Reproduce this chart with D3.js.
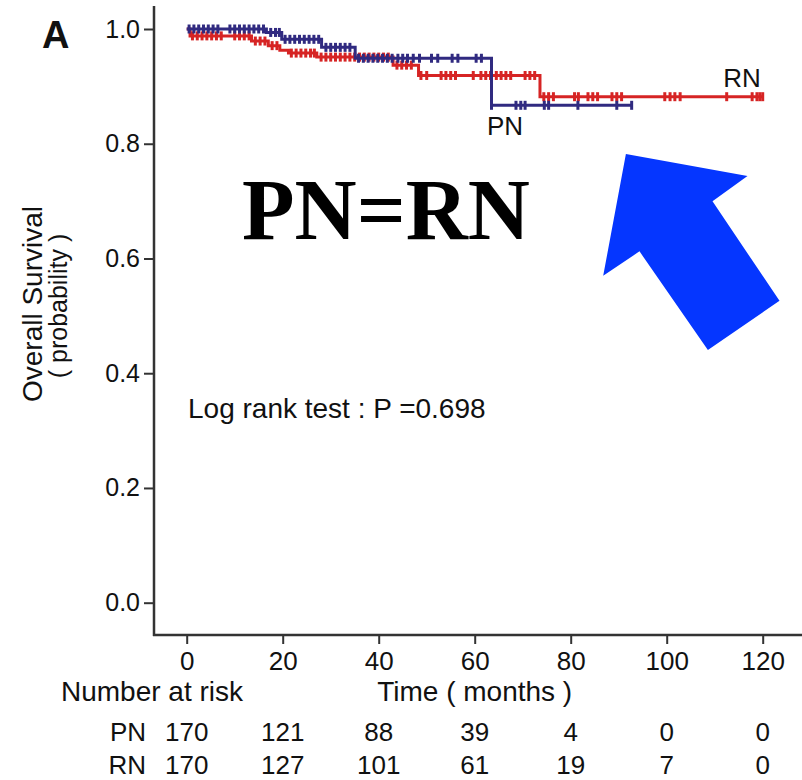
<!DOCTYPE html>
<html>
<head>
<meta charset="utf-8">
<script src="https://cdn.jsdelivr.net/npm/d3@7"></script>
<style>
body { margin: 0; background: #fff; }
svg text { font-family: "Liberation Sans", Arial, sans-serif; fill: #111; }
</style>
</head>
<body>
<div id="chart"></div>
<script>
"use strict";

// Kaplan-Meier steps (time in months, survival probability)
var pnStepTimes = [0, 16.6, 19.8, 28.1, 35.1, 63.5];
var pnStepSurv = [1.0, 0.994, 0.982, 0.968, 0.949, 0.867];
var pnLastTime = 92.7;
var pnCensored = [0.5, 1.5, 2.5, 3.5, 4.5, 5.5, 6.5, 9, 10, 11, 12, 13, 14, 15, 16,
	17.5, 18.5, 19.3, 20.5, 21.5, 22.5, 23.5, 24.5, 25.5, 26.5, 27.5,
	29, 30, 31, 32, 33, 34, 35.8, 36.8, 37.8, 38.8, 39.8, 40.8, 41.8, 42.8,
	44, 45, 46, 47.2, 48.5, 51, 52.3, 55.3, 56.5, 60.3, 61.4, 63.5,
	68.6, 69.6, 70.5, 74.5, 75.4, 81.5, 89.6, 92.7];

var rnStepTimes = [0, 0.7, 13.5, 17, 19.4, 21.2, 27.1, 43, 48.3, 73.6];
var rnStepSurv = [1.0, 0.988, 0.979, 0.971, 0.963, 0.958, 0.951, 0.937, 0.919, 0.882];
var rnLastTime = 120;
var rnCensored = [1.2, 2.2, 3.2, 4.2, 5.2, 6.2, 7.2, 10, 11, 12, 13, 14.3, 15.3, 16.3,
	17.8, 18.8, 21.8, 22.8, 23.8, 24.8, 25.8, 26.6, 28, 29, 30, 31, 32, 33, 34,
	35, 36, 37, 38, 39, 40, 41, 42, 43.8, 44.8, 45.8, 46.8, 48.8, 50,
	53, 54, 55, 56, 59.7, 61.3, 62.3, 63.3, 64.5, 65.5, 66.5, 67.5,
	70.5, 71.5, 72.5, 74.4, 75.4, 76.4, 80.8, 81.6, 83.6, 84.6, 85.6,
	88.6, 89.6, 90.6, 99.6, 100.7, 101.7, 102.8, 112.5, 117.8, 118.8, 119.4, 120];

var xTicks = [0, 20, 40, 60, 80, 100, 120];
var yTicks = [0, 0.2, 0.4, 0.6, 0.8, 1.0];

var riskTimes = [0, 20, 40, 60, 80, 100, 120];
var pnAtRisk = [170, 121, 88, 39, 4, 0, 0];
var rnAtRisk = [170, 127, 101, 61, 19, 7, 0];

var W = 802, H = 780;
var axisX = 154, axisY = 635;

var svg = d3.select("#chart").append("svg")
	.attr("width", W)
	.attr("height", H);

var scaleX = d3.scaleLinear().domain([0, 120]).range([186.7, 762.7]);
var scaleY = d3.scaleLinear().domain([0, 1]).range([602.7, 29]);

// axes
var yAxis = svg.append("g")
	.attr("transform", "translate(" + axisX + ",0)")
	.call(d3.axisLeft(scaleY)
		.tickValues(yTicks)
		.tickSizeInner(10)
		.tickSizeOuter(0)
		.tickPadding(4)
		.tickFormat(d3.format(".1f")));

var xAxis = svg.append("g")
	.attr("transform", "translate(0," + axisY + ")")
	.call(d3.axisBottom(scaleX)
		.tickValues(xTicks)
		.tickSizeInner(9)
		.tickSizeOuter(0)
		.tickPadding(8));

[yAxis, xAxis].forEach(function(ax) {
	ax.select(".domain").remove();
	ax.selectAll(".tick line").attr("stroke", "#333").attr("stroke-width", 2);
	ax.selectAll("text")
		.attr("font-family", "\"Liberation Sans\", Arial, sans-serif")
		.attr("fill", "#111");
});
yAxis.selectAll("text").attr("font-size", 25);
xAxis.selectAll("text").attr("font-size", 26);

svg.append("line")
	.attr("x1", axisX).attr("x2", axisX)
	.attr("y1", 6).attr("y2", axisY + 1)
	.attr("stroke", "#333").attr("stroke-width", 2.5);
svg.append("line")
	.attr("x1", axisX - 1).attr("x2", W)
	.attr("y1", axisY).attr("y2", axisY)
	.attr("stroke", "#333").attr("stroke-width", 2.5);

// survival curves
function makeSeries(times, surv, lastTime) {
	var pts = times.map(function(t, i) {
		return {t: t, s: surv[i]};
	});
	pts.push({t: lastTime, s: surv[surv.length - 1]});
	return pts;
}

function survAt(times, surv, t) {
	var i = d3.bisectRight(times, t) - 1;
	return surv[Math.max(0, i)];
}

var kmLine = d3.line()
	.x(function(d) {
		return scaleX(d.t);
	})
	.y(function(d) {
		return scaleY(d.s);
	})
	.curve(d3.curveStepAfter);

function drawCurve(times, surv, lastTime, censored, color) {
	var grp = svg.append("g");
	grp.append("path")
		.datum(makeSeries(times, surv, lastTime))
		.attr("d", kmLine)
		.attr("fill", "none")
		.attr("stroke", color)
		.attr("stroke-width", 3);
	grp.selectAll("line.cens")
		.data(censored)
		.enter().append("line")
		.attr("class", "cens")
		.attr("x1", function(d) { return scaleX(d); })
		.attr("x2", function(d) { return scaleX(d); })
		.attr("y1", function(d) { return scaleY(survAt(times, surv, d)) - 4.5; })
		.attr("y2", function(d) { return scaleY(survAt(times, surv, d)) + 4.5; })
		.attr("stroke", color)
		.attr("stroke-width", 3);
}

drawCurve(rnStepTimes, rnStepSurv, rnLastTime, rnCensored, "rgb(214, 36, 36)");
drawCurve(pnStepTimes, pnStepSurv, pnLastTime, pnCensored, "rgb(48, 42, 128)");

// curve labels
svg.append("text")
	.attr("x", 742).attr("y", 87)
	.attr("text-anchor", "middle")
	.attr("font-size", 26)
	.text("RN");
svg.append("text")
	.attr("x", 505).attr("y", 135)
	.attr("text-anchor", "middle")
	.attr("font-size", 26)
	.text("PN");

// panel letter
svg.append("text")
	.attr("x", 42).attr("y", 48)
	.attr("font-size", 38)
	.attr("font-weight", "bold")
	.text("A");

// y axis title
var yTitle = svg.append("g")
	.attr("transform", "translate(42,304) rotate(-90)");
yTitle.append("text")
	.attr("text-anchor", "middle")
	.attr("font-size", 28)
	.text("Overall Survival");
yTitle.append("text")
	.attr("x", -2)
	.attr("y", 25)
	.attr("text-anchor", "middle")
	.attr("font-size", 25)
	.text("( probability )");

svg.append("text")
	.attr("x", 188).attr("y", 418)
	.attr("font-size", 28)
	.text("Log rank test : P =0.698");

svg.append("text")
	.attr("x", 242).attr("y", 239)
	.attr("font-size", 86)
	.attr("font-weight", "bold")
	.style("font-family", "\"Liberation Serif\", \"Times New Roman\", serif")
	.style("fill", "#000")
	.text("PN=RN");

// big blue arrow pointing at the curve tails
var arrowTip = {t: 91.5, s: 0.782};
var arrowShape = [[0, 0], [121.6, 22], [86.6, 47.3], [153.6, 146.7], [82, 196], [13.6, 97.3], [-22.7, 121.7]];
var tipX = scaleX(arrowTip.t), tipY = scaleY(arrowTip.s);
svg.append("polygon")
	.attr("points", arrowShape.map(function(p) {
		return (tipX + p[0]) + "," + (tipY + p[1]);
	}).join(" "))
	.attr("fill", "rgb(5, 54, 255)");

// number at risk table
svg.append("text")
	.attr("x", 61).attr("y", 701)
	.attr("font-size", 28)
	.text("Number at risk");
svg.append("text")
	.attr("x", scaleX(60)).attr("y", 701)
	.attr("text-anchor", "middle")
	.attr("font-size", 28)
	.text("Time ( months )");

function riskRow(label, values, y) {
	svg.append("text")
		.attr("x", 146).attr("y", y)
		.attr("text-anchor", "end")
		.attr("font-size", 26)
		.text(label);
	svg.selectAll(null)
		.data(values)
		.enter().append("text")
		.attr("x", function(d, i) { return scaleX(riskTimes[i]); })
		.attr("y", y)
		.attr("text-anchor", "middle")
		.attr("font-size", 26)
		.text(function(d) { return d; });
}
riskRow("PN", pnAtRisk, 741);
riskRow("RN", rnAtRisk, 774);
</script>
</body>
</html>
